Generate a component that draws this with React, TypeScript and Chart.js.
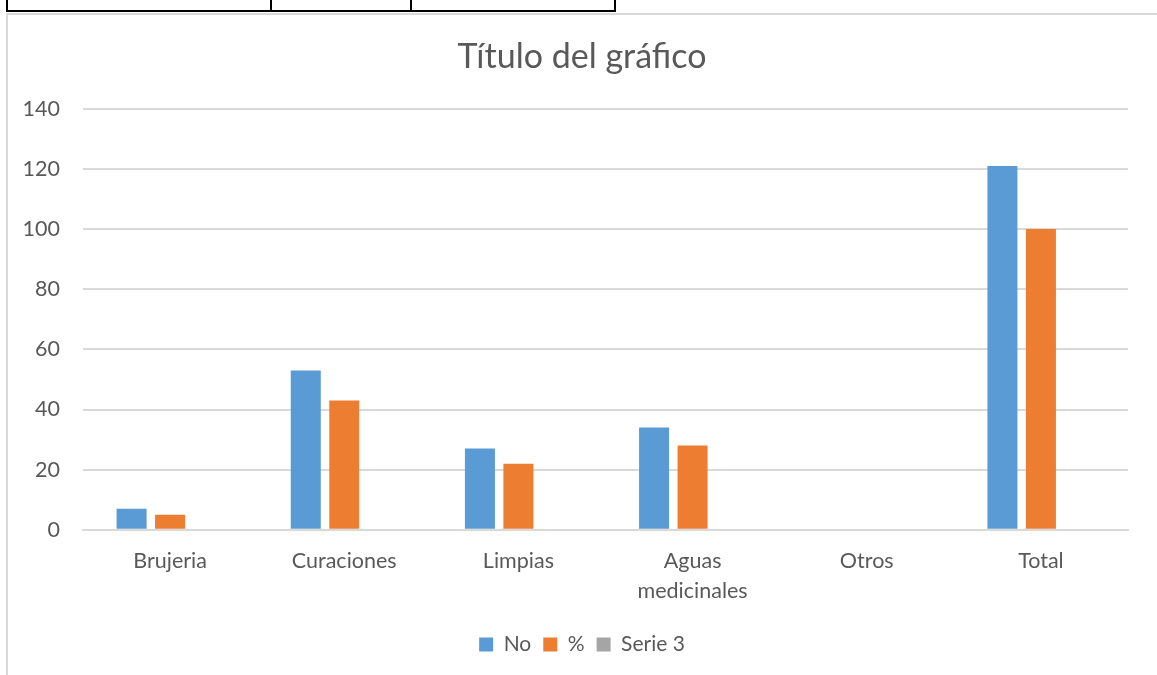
import React, { useEffect, useRef } from "react";
import { Chart, registerables } from "chart.js";

Chart.register(...registerables);

const categories: (string | string[])[] = ["Brujeria", "Curaciones", "Limpias", ["Aguas", "medicinales"], "Otros", "Total"];
const seriesNo = [7, 53, 27, 34, 0, 121];
const seriesPct = [5, 43, 22, 28, 0, 100];
const serie3: (number | null)[] = [null, null, null, null, null, null];
const seriesNames = ["No", "%", "Serie 3"];
const yTicks = [0, 20, 40, 60, 80, 100, 120, 140];

const FONT = "Lato, 'Open Sans', sans-serif";
const TEXT = "#595959";

export default function App() {
  const ref = useRef<HTMLCanvasElement>(null);
  useEffect(() => {
    if (!ref.current) return;
    const chart = new Chart(ref.current, {
      type: "bar",
      data: {
        labels: categories,
        datasets: [
          { label: seriesNames[0], data: seriesNo, backgroundColor: "#5B9BD5", borderWidth: 0 },
          { label: seriesNames[1], data: seriesPct, backgroundColor: "#ED7D31", borderWidth: 0 },
          { label: seriesNames[2], data: serie3, backgroundColor: "#A5A5A5", borderWidth: 0 },
        ],
      },
      options: {
        animation: false,
        responsive: false,
        maintainAspectRatio: false,
        datasets: { bar: { categoryPercentage: 0.663, barPercentage: 0.78 } },
        layout: { padding: { left: 36, right: 29, top: 0, bottom: 10 } },
        plugins: {
          title: {
            display: true,
            text: "Título del gráfico",
            color: TEXT,
            font: { family: FONT, size: 34, weight: "normal" },
            padding: { top: 37, bottom: 31 },
          },
          legend: {
            position: "bottom",
            labels: {
              color: TEXT,
              font: { family: FONT, size: 21 },
              boxWidth: 14,
              boxHeight: 14,
              padding: 12,
            },
          },
          tooltip: { enabled: false },
        },
        scales: {
          x: {
            grid: { display: false, drawTicks: false },
            border: { color: "#D9D9D9", width: 2 },
            ticks: {
              color: TEXT,
              font: { family: FONT, size: 21.5, lineHeight: 1.4 },
              padding: 16,
              maxRotation: 0,
              autoSkip: false,
            },
          },
          y: {
            min: 0,
            max: 140,
            afterBuildTicks: (s: any) => {
              s.ticks = yTicks.map((v) => ({ value: v }));
            },
            afterFit: (s: any) => {
              s.width = 47;
              s._computeLabelArea = () => undefined;
            },
            grid: { color: "#D9D9D9", lineWidth: 2, drawTicks: false },
            border: { display: false },
            ticks: {
              color: TEXT,
              font: { family: FONT, size: 21.5 },
              padding: 23,
            },
          },
        },
      },
    });
    return () => chart.destroy();
  }, []);

  const black = "#000";
  return (
    <div style={{ position: "absolute", left: 0, top: 0, width: 1157, height: 675, background: "#fff", overflow: "hidden" }}>
      <div style={{ position: "absolute", left: 6, top: 0, width: 2, height: 12, background: black }} />
      <div style={{ position: "absolute", left: 270, top: 0, width: 2, height: 12, background: black }} />
      <div style={{ position: "absolute", left: 410, top: 0, width: 2, height: 12, background: black }} />
      <div style={{ position: "absolute", left: 614, top: 0, width: 2, height: 12, background: black }} />
      <div style={{ position: "absolute", left: 6, top: 10, width: 610, height: 2, background: black }} />
      <div style={{ position: "absolute", left: 6, top: 13, width: 1151, height: 2, background: "#D9D9D9" }} />
      <div style={{ position: "absolute", left: 6, top: 13, width: 2, height: 662, background: "#D9D9D9" }} />
      <canvas ref={ref} width={1157} height={675} style={{ position: "absolute", left: 0, top: 0 }} />
    </div>
  );
}
